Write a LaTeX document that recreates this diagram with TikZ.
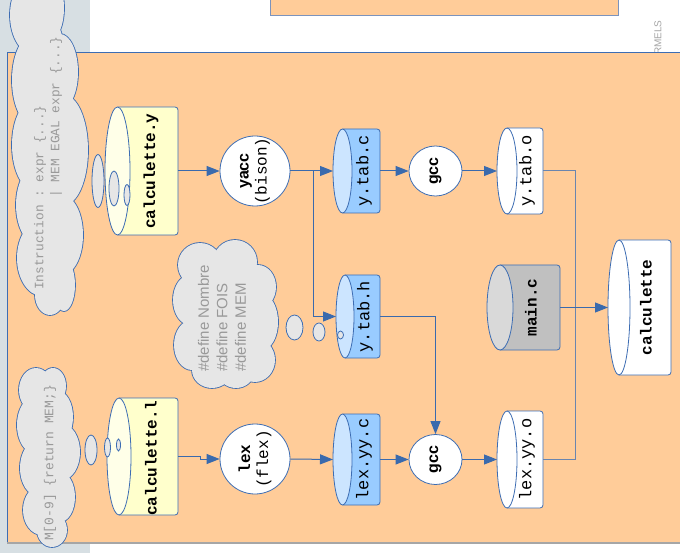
\documentclass[tikz,border=0pt]{standalone}
\usepackage{fontspec}
\setmainfont{Liberation Sans}
\setmonofont{Liberation Mono}
\usetikzlibrary{shapes.geometric,arrows.meta,calc}

\definecolor{peach}{HTML}{FFCC99}
\definecolor{stripgray}{HTML}{D7DFE3}
\definecolor{edgeblue}{HTML}{3D6DB3}
\definecolor{linkblue}{HTML}{3A6AAD}
\definecolor{linkgray}{HTML}{6A85AE}
\definecolor{topedge}{HTML}{7B93BD}
\definecolor{bottomedge}{HTML}{A6A6A6}
\definecolor{yelbody}{HTML}{FFFFCC}
\definecolor{yelface}{HTML}{FFFFE8}
\definecolor{bluebody}{HTML}{99CCFF}
\definecolor{blueface}{HTML}{CCE5FF}
\definecolor{graybody}{HTML}{C0C0C0}
\definecolor{grayface}{HTML}{D9D9D9}
\definecolor{cloudfill}{HTML}{E6E6E6}
\definecolor{cloudtext}{HTML}{999999}
\definecolor{faintgray}{HTML}{A6A6A6}

\tikzset{
  cylbox/.style={rectangle, inner sep=0, outer sep=0},
  cylline/.style={draw=edgeblue, line width=0.8pt},
  rot/.style={rotate=90, inner sep=0},
  monob/.style={font=\ttfamily\bfseries\fontsize{16}{19}\selectfont},
  monor/.style={font=\ttfamily\fontsize{17}{20}\selectfont},
  proc/.style={circle, draw=edgeblue, fill=white, line width=0.8pt, minimum size=70pt, inner sep=0},
  gccnode/.style={ellipse, draw=edgeblue, fill=white, line width=0.8pt, minimum width=53pt, minimum height=50pt, inner sep=0},
  bubble/.style={ellipse, draw=edgeblue, fill=cloudfill, line width=0.8pt, inner sep=0},
  arrowline/.style={draw=linkblue, line width=1pt, -{Triangle[length=13pt,width=10pt]}},
  plainline/.style={draw=linkgray, line width=1pt},
}

\newcommand\cylshape[5]{%
  \filldraw[cylline, fill=#4, rounded corners=3pt] ($(#1.south west)+(#2,0)$) -- (#1.south east) -- (#1.north east) -- ($(#1.north west)+(#2,0)$);
  \filldraw[cylline, fill=#5] ($(#1.west)+(#2,0)$) ellipse [x radius=#2, y radius=#3];
}
% cloud as union of ellipses: outline drawn thick, then all fills on top
\newcommand\cloudunion[1]{%
  \foreach \cx/\cy/\ra/\rb in {#1} {\draw[edgeblue, line width=1.7pt] (\cx,\cy) ellipse [x radius=\ra, y radius=\rb];}
  \foreach \cx/\cy/\ra/\rb in {#1} {\fill[cloudfill] (\cx,\cy) ellipse [x radius=\ra, y radius=\rb];}
}

\begin{document}
\begin{tikzpicture}[x=1pt, y=-1pt]
\useasboundingbox (0,0) rectangle (680,553);
\clip (0,0) rectangle (680,553);

% backgrounds
\fill[white] (0,0) rectangle (680,553);
\fill[stripgray] (0,0) rectangle (90,553);
\filldraw[fill=peach, draw=topedge, line width=0.8pt] (270,-5) rectangle (618,15);
\node[rot, anchor=west, text=faintgray, font=\fontsize{10}{12}\selectfont] (rmels) at (658,55) {RMELS};
\fill[peach] (7,52) rectangle (690,543);
\draw[edgeblue, line width=0.8pt] (690,52) -- (7,52) -- (7,543);
\draw[bottomedge, line width=1.5pt] (7,543) -- (690,543);

% clouds
\cloudunion{35/15/25/40, 33/80/21/45, 34/145/22/45, 38/205/22/40, 42/258/25/38, 50/295/15/20,
            49/8/15/33, 60/72/18/38, 64/150/24/55, 62/235/21/40, 64/285/11/26, 49/155/25/140}
\cloudunion{36/390/17/22, 53/386/13/18, 34/425/17/28, 58/417/15/26, 38/468/18/28, 62/452/18/28,
            42/510/19/25, 60/497/15/25, 52/530/15/17, 48/458/20/70}
\cloudunion{200/265/22/22, 235/262/22/22, 258/287/18/22, 190/300/17/25, 262/322/16/28,
            192/345/18/25, 255/360/20/22, 212/370/20/18, 236/372/18/16, 225/315/40/50}

\node[rot, anchor=west, align=left, text=cloudtext, font=\ttfamily\fontsize{12.8}{16}\selectfont] (cloudAt) at (48,290)
  {Instruction : expr \{...\}\\\phantom{Instruction\ }| MEM EGAL expr \{...\}};
\node[rot, anchor=west, text=cloudtext, font=\ttfamily\fontsize{13}{16}\selectfont] (cloudBt) at (50,541)
  {M[0-9] \{return MEM;\}};
\node[rot, anchor=west, align=left, text=cloudtext, font=\fontsize{15}{18.5}\selectfont] (cloudCt) at (222,372)
  {\#define Nombre\\\#define FOIS\\\#define MEM};

% cylinders
\node[cylbox, minimum width=73pt, minimum height=128pt] (calcy) at (141.5,171) {};
\cylshape{calcy}{12.5}{64}{yelbody}{yelface}
\node[rot, monob] (calcyt) at (151,171) {calculette.y};

\node[cylbox, minimum width=71pt, minimum height=117pt] (calcl) at (142.5,456.5) {};
\cylshape{calcl}{12}{58.5}{yelbody}{yelface}
\node[rot, monob] (calclt) at (151,458) {calculette.l};

\node[cylbox, minimum width=47pt, minimum height=84pt] (ytabc) at (356.5,171) {};
\cylshape{ytabc}{9.5}{42}{bluebody}{blueface}
\node[rot, monor] (ytabct) at (364,171) {y.tab.c};

\node[cylbox, minimum width=44pt, minimum height=83pt] (ytabh) at (358,316.5) {};
\cylshape{ytabh}{9}{41.5}{bluebody}{blueface}
\node[rot, monor] (ytabht) at (365,316.5) {y.tab.h};

\node[cylbox, minimum width=46pt, minimum height=86pt] (ytabo) at (520,171) {};
\cylshape{ytabo}{10}{43}{white}{white}
\node[rot, monor] (ytabot) at (527,171) {y.tab.o};

\node[cylbox, minimum width=47pt, minimum height=91pt] (lexyyc) at (356.5,459.5) {};
\cylshape{lexyyc}{9.5}{45.5}{bluebody}{blueface}
\node[rot, monor] (lexyyct) at (364,459.5) {lex.yy.c};

\node[cylbox, minimum width=46pt, minimum height=97pt] (lexyyo) at (520,459.5) {};
\cylshape{lexyyo}{10}{48.5}{white}{white}
\node[rot, monor] (lexyyot) at (527,459.5) {lex.yy.o};

\node[cylbox, minimum width=73pt, minimum height=85pt] (mainc) at (523.5,307.5) {};
\cylshape{mainc}{13}{42.5}{graybody}{grayface}
\node[rot, monob] (mainct) at (531,307.5) {main.c};

\node[cylbox, minimum width=63pt, minimum height=135pt] (calc) at (639.5,307.5) {};
\cylshape{calc}{11}{67.5}{white}{white}
\node[rot, monob] (calct) at (646,307.5) {calculette};

% thought bubbles
\node[bubble, minimum width=12pt, minimum height=53pt] (bA1) at (98,181) {};
\node[bubble, minimum width=10pt, minimum height=35pt] (bA2) at (114,188.5) {};
\node[bubble, minimum width=6pt, minimum height=21pt] (bA3) at (127,195) {};
\node[bubble, minimum width=12pt, minimum height=30pt] (bB1) at (91,450) {};
\node[bubble, minimum width=6pt, minimum height=19pt] (bB2) at (107.5,447.5) {};
\node[bubble, minimum width=4pt, minimum height=12pt] (bB3) at (118.5,445) {};
\node[bubble, minimum width=17pt, minimum height=25pt] (bC1) at (294.5,327.5) {};
\node[bubble, minimum width=12pt, minimum height=18pt] (bC2) at (319,332) {};
\node[bubble, minimum width=6pt, minimum height=8pt] (bC3) at (340.5,335) {};

% processes
\node[proc] (yacc) at (255,171) {};
\node[rot, align=center, font=\fontsize{16}{18}\selectfont] (yacct) at (yacc) {\textbf{yacc}\\\texttt{(bison)}};
\node[proc] (lex) at (255,459) {};
\node[rot, align=center, font=\fontsize{16}{18}\selectfont] (lext) at (lex) {\texttt{\textbf{lex}}\\\texttt{(flex)}};
\node[gccnode] (gccA) at (435.5,171) {};
\node[rot, font=\bfseries\fontsize{16}{18}\selectfont] (gccAt) at (gccA) {gcc};
\node[gccnode] (gccB) at (435.5,459.5) {};
\node[rot, font=\bfseries\fontsize{16}{18}\selectfont] (gccBt) at (gccB) {gcc};

% connectors
\coordinate (br) at (313,171);
\coordinate (jn) at (575,307.5);
\draw[arrowline] (calcy.east) -- (yacc.west);
\draw[arrowline] (yacc.east) -- (ytabc.west);
\draw[arrowline] (br) |- (ytabh.west);
\draw[arrowline] (ytabc.east) -- (gccA.west);
\draw[arrowline] (gccA.east) -- (ytabo.west);
\draw[arrowline] (ytabh.east) -| (gccB.north);
\draw[arrowline] (calcl.east) -- ++(22,0) |- (lex.west);
\draw[arrowline] (lex.east) -- (lexyyc.west);
\draw[arrowline] (lexyyc.east) -- (gccB.west);
\draw[arrowline] (gccB.east) -- (lexyyo.west);
\draw[plainline] (ytabo.east) -| (jn);
\draw[plainline] (lexyyo.east) -| (jn);
\draw[arrowline] (mainc.east) -- (calc.west);
\end{tikzpicture}
\end{document}
